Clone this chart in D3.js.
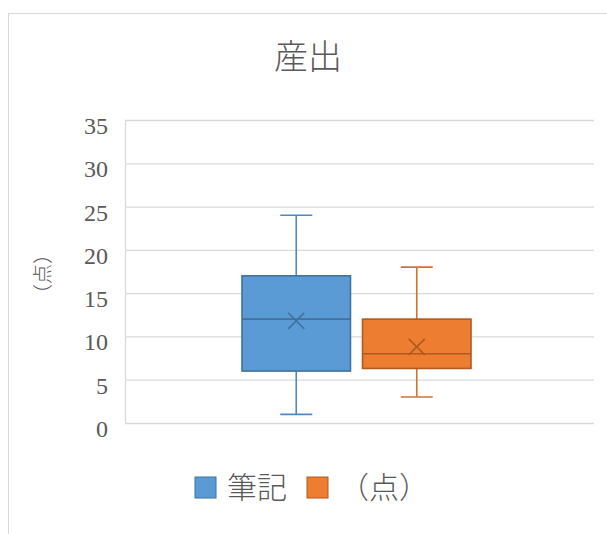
<!DOCTYPE html>
<html>
<head>
<meta charset="utf-8">
<script src="https://cdn.jsdelivr.net/npm/d3@7"></script>
<style>
  html, body { margin: 0; padding: 0; background: #fff; }
  svg { display: block; }
</style>
</head>
<body>
<svg id="chart" width="607" height="534"></svg>
<script>
// ---- data ----
const chartTitle = "産出";
const yAxisTitle = "（点）";
const categories = ["産出"];
const seriesNames = ["筆記", "（点）"];
const seriesMin = [1, 3];
const seriesQ1 = [6, 6.3];
const seriesMedian = [12, 8];
const seriesQ3 = [17, 12];
const seriesMax = [24, 18];
const seriesMean = [11.8, 8.8];
const yTicks = [0, 5, 10, 15, 20, 25, 30, 35];

const fills = ["#5B9BD5", "#ED7D31"];
const strokes = ["#41719C", "#AE5A21"];
const whiskerColors = ["#4C89C6", "#D2722F"];

const svg = d3.select("#chart");
const textColor = "#595959";
const cjk = "'Noto Sans CJK JP', 'Noto Sans CJK SC', sans-serif";
const serif = "'Liberation Serif', 'DejaVu Serif', serif";

// chart border
svg.append("rect")
  .attr("x", 8.5).attr("y", 13.5)
  .attr("width", 700).attr("height", 700)
  .attr("fill", "#fff").attr("stroke", "#D9D9D9").attr("stroke-width", 1);

const plot = { left: 125, right: 594, top: 120, bottom: 423 };

const y = d3.scaleLinear().domain([0, 35]).range([plot.bottom, plot.top]);
const x = d3.scaleBand().domain(categories).range([plot.left, plot.right - 6])
  .paddingInner(0).paddingOuter(0.511);
const xs = d3.scaleBand().domain(seriesNames).range([0, x.bandwidth()]).paddingInner(0.1);

// gridlines + axis
const yAxis = d3.axisLeft(y).tickValues(yTicks).tickSize(-(plot.right - plot.left))
  .tickPadding(17).tickFormat(d3.format("d"));
const ga = svg.append("g").attr("transform", `translate(${plot.left},0)`).call(yAxis);
ga.select(".domain").attr("d", `M0.5,${plot.top}V${plot.bottom}`)
  .attr("stroke", "#D9D9D9").attr("stroke-width", 1.3);
ga.selectAll(".tick line").attr("stroke", "#D9D9D9").attr("stroke-width", 1.3);
ga.selectAll(".tick text")
  .attr("fill", textColor)
  .style("font-family", serif)
  .style("font-size", "24px")
  .attr("dy", "13.5")
  .attr("dominant-baseline", "alphabetic");

// boxes
const gb = svg.append("g");
seriesNames.forEach((s, i) => {
  const x0 = x(categories[0]) + xs(s);
  const w = xs.bandwidth();
  const cx = x0 + w / 2;
  const cap = 16;
  const g = gb.append("g");
  // whiskers
  g.append("line").attr("x1", cx).attr("x2", cx)
    .attr("y1", y(seriesMax[i])).attr("y2", y(seriesQ3[i]))
    .attr("stroke", whiskerColors[i]).attr("stroke-width", 1.6);
  g.append("line").attr("x1", cx).attr("x2", cx)
    .attr("y1", y(seriesQ1[i])).attr("y2", y(seriesMin[i]))
    .attr("stroke", whiskerColors[i]).attr("stroke-width", 1.6);
  g.append("line").attr("x1", cx - cap).attr("x2", cx + cap)
    .attr("y1", y(seriesMax[i])).attr("y2", y(seriesMax[i]))
    .attr("stroke", whiskerColors[i]).attr("stroke-width", 1.6);
  g.append("line").attr("x1", cx - cap).attr("x2", cx + cap)
    .attr("y1", y(seriesMin[i])).attr("y2", y(seriesMin[i]))
    .attr("stroke", whiskerColors[i]).attr("stroke-width", 1.6);
  // box
  g.append("rect").attr("x", x0).attr("width", w)
    .attr("y", y(seriesQ3[i])).attr("height", y(seriesQ1[i]) - y(seriesQ3[i]))
    .attr("fill", fills[i]).attr("stroke", strokes[i]).attr("stroke-width", 1.6);
  // median
  g.append("line").attr("x1", x0).attr("x2", x0 + w)
    .attr("y1", y(seriesMedian[i])).attr("y2", y(seriesMedian[i]))
    .attr("stroke", strokes[i]).attr("stroke-width", 1.6);
  // mean marker
  const my = y(seriesMean[i]);
  const m = 8;
  g.append("path")
    .attr("d", `M${cx - m},${my - m}L${cx + m},${my + m}M${cx - m},${my + m}L${cx + m},${my - m}`)
    .attr("stroke", strokes[i]).attr("stroke-width", 1.6).attr("fill", "none");
});

// title
svg.append("text")
  .attr("x", 308).attr("y", 69)
  .attr("text-anchor", "middle")
  .attr("fill", textColor)
  .style("font-family", cjk)
  .style("font-size", "34px")
  .style("font-weight", "300")
  .text(chartTitle);

// y axis title
svg.append("text")
  .attr("transform", `translate(50,274) rotate(-90)`)
  .attr("text-anchor", "middle")
  .attr("fill", textColor)
  .style("font-family", cjk)
  .style("font-size", "20px")
  .style("font-weight", "300")
  .text(yAxisTitle);

// legend
const lg = svg.append("g");
let lx = 195;
seriesNames.forEach((s, i) => {
  lg.append("rect").attr("x", lx).attr("y", 477).attr("width", 21).attr("height", 21)
    .attr("fill", fills[i]).attr("stroke", strokes[i]).attr("stroke-width", 1);
  const t = lg.append("text").attr("x", lx + 32).attr("y", 498)
    .attr("fill", textColor)
    .style("font-family", cjk)
    .style("font-size", "30px")
    .style("font-weight", "300")
    .text(s);
  lx = lx + 32 + t.node().getComputedTextLength() + 20;
});
</script>
</body>
</html>
